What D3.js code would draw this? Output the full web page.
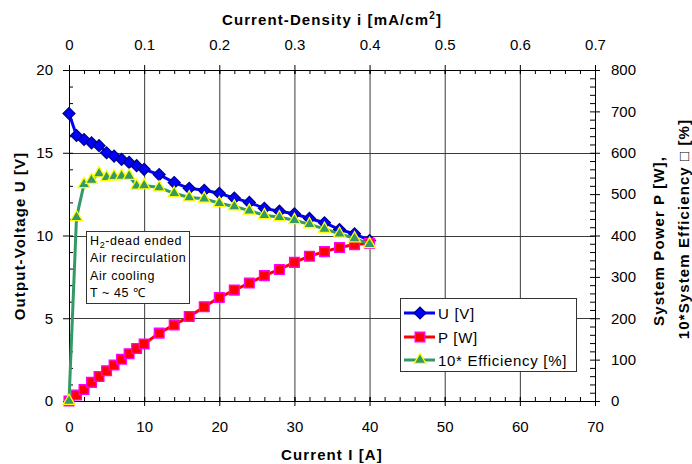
<!DOCTYPE html>
<html><head><meta charset="utf-8">
<script src="https://cdn.jsdelivr.net/npm/d3@7"></script>
<style>
body{margin:0;background:#fff;}
text{font-family:"Liberation Sans",Arial,sans-serif;fill:#000;}
</style>
</head><body><svg id="c" width="692" height="464"></svg>
<script>
// ---- data ----
const currentA = [0,1,2,3,4,5,6,7,8,9,10,12,14,16,18,20,22,24,26,28,30,32,34,36,38,40];
const voltageU = [17.37,16.04,15.8,15.6,15.43,15.0,14.8,14.6,14.42,14.22,14.0,13.68,13.2,12.85,12.73,12.55,12.26,12.0,11.64,11.47,11.31,11.03,10.77,10.36,10.1,9.7];
const powerP = [0,14.5,28,45,59,73,87,101,114,127,138,164,184,204,228,250,268,285,303,318,335,350,361,371,378,381];
const efficiency10 = [0,444,524,534,550,541,543,544,544,520,521,516,502,492,489,478,470,460,449,444,437,427,416,404,393,379];
const xTicks = [0,10,20,30,40,50,60,70];
const topTicks = [0,0.1,0.2,0.3,0.4,0.5,0.6,0.7];
const leftTicks = [0,5,10,15,20];
const rightTicks = [0,100,200,300,400,500,600,700,800];
const legendLabels = ["U [V]","P [W]","10* Efficiency [%]"];
const noteLines = ["Air recirculation","Air cooling","T ~ 45 \u2103"];

// ---- layout ----
const L=69, R=595, T=70, B=401;
const svg=d3.select("#c");
const x=d3.scaleLinear().domain([0,70]).range([L,R]);
const xTop=d3.scaleLinear().domain([0,0.7]).range([L,R]);
const y=d3.scaleLinear().domain([0,20]).range([B,T]);
const yR=d3.scaleLinear().domain([0,800]).range([B,T]);

// gridlines
const grid=svg.append("g").attr("stroke","#3a3a3a").attr("stroke-width",1);
xTicks.slice(1,-1).forEach(v=>grid.append("line").attr("x1",x(v)+0.5).attr("x2",x(v)+0.5).attr("y1",T).attr("y2",B));
leftTicks.slice(1,-1).forEach(v=>grid.append("line").attr("x1",L).attr("x2",R).attr("y1",Math.round(y(v))+0.5).attr("y2",Math.round(y(v))+0.5));

function styleAxis(g){
  g.selectAll("path,line").attr("stroke","#000").attr("stroke-width",1);
  g.selectAll("text").attr("font-size","15px").attr("font-family","'Liberation Sans',Arial,sans-serif").attr("fill","#000");
}
const fmt=d=>String(d);
// minor (inward) ticks
svg.append("g").attr("transform",`translate(0,${B})`).call(d3.axisBottom(x).tickValues(d3.range(0,71,2)).tickSize(-4).tickSizeOuter(0).tickFormat("")).call(styleAxis);
svg.append("g").attr("transform",`translate(0,${T})`).call(d3.axisTop(xTop).tickValues(d3.range(0,36).map(i=>i*0.02)).tickSize(-4).tickSizeOuter(0).tickFormat("")).call(styleAxis);
svg.append("g").attr("transform",`translate(${L},0)`).call(d3.axisLeft(y).tickValues(d3.range(0,21,1)).tickSize(-4).tickSizeOuter(0).tickFormat("")).call(styleAxis);
svg.append("g").attr("transform",`translate(${R},0)`).call(d3.axisRight(yR).tickValues(d3.range(0,801,20)).tickSize(-5).tickSizeOuter(0).tickFormat("")).call(styleAxis);
// major ticks + labels
svg.append("g").attr("transform",`translate(0,${B})`).call(d3.axisBottom(x).tickValues(xTicks).tickSize(5).tickPadding(15).tickSizeOuter(0).tickFormat(fmt)).call(styleAxis);
svg.append("g").attr("transform",`translate(0,${T})`).call(d3.axisTop(xTop).tickValues(topTicks).tickSize(5).tickPadding(15).tickSizeOuter(0).tickFormat(fmt)).call(styleAxis);
svg.append("g").attr("transform",`translate(${L},0)`).call(d3.axisLeft(y).tickValues(leftTicks).tickSize(6).tickPadding(10).tickSizeOuter(0).tickFormat(fmt)).call(styleAxis);
svg.append("g").attr("transform",`translate(${R},0)`).call(d3.axisRight(yR).tickValues(rightTicks).tickSize(5).tickPadding(11).tickSizeOuter(0).tickFormat(fmt)).call(styleAxis);
// inward part of major ticks
svg.append("g").attr("transform",`translate(0,${B})`).call(d3.axisBottom(x).tickValues(xTicks).tickSize(-4).tickSizeOuter(0).tickFormat("")).call(styleAxis);
svg.append("g").attr("transform",`translate(0,${T})`).call(d3.axisTop(xTop).tickValues(topTicks).tickSize(-4).tickSizeOuter(0).tickFormat("")).call(styleAxis);

// titles
const titleStyle=s=>s.attr("font-size","15px").attr("font-weight","bold").attr("letter-spacing","1.1px").attr("text-anchor","middle");
svg.append("text").attr("x",(L+R)/2).attr("y",460).call(titleStyle).text("Current I [A]");
const tt=svg.append("text").attr("x",(L+R)/2).attr("y",25).call(titleStyle);
tt.append("tspan").text("Current-Density i [mA/cm");
tt.append("tspan").attr("font-size","10px").attr("dy","-6").text("2");
tt.append("tspan").attr("dy","6").text("]");
svg.append("text").attr("transform","translate(25,236) rotate(-90)").call(titleStyle).text("Output-Voltage U [V]");
svg.append("text").attr("transform","translate(664,241) rotate(-90)").call(titleStyle).text("System Power P [W],");
svg.append("text").attr("transform","translate(689,229) rotate(-90)").call(titleStyle).text("10*System Efficiency  \u25A1 [%]");

// series
const idx=d3.range(currentA.length);
const lineU=d3.line().x(i=>x(currentA[i])).y(i=>y(voltageU[i]));
const lineP=d3.line().x(i=>x(currentA[i])).y(i=>yR(powerP[i]));
const lineE=d3.line().x(i=>x(currentA[i])).y(i=>yR(efficiency10[i]));
const diamond=d3.symbol().type(d3.symbolSquare).size(70);
const square=d3.symbol().type(d3.symbolSquare).size(95);
const tri=d3.symbol().type(d3.symbolTriangle).size(60);

const series=[
  {line:lineU,color:"#0000FF",sym:diamond,fill:"#0000FF",stroke:"#00008B",rot:45,yv:i=>y(voltageU[i])},
  {line:lineP,color:"#FF0000",sym:square,fill:"#FF0000",stroke:"#FF00FF",rot:0,yv:i=>yR(powerP[i])},
  {line:lineE,color:"#339966",sym:tri,fill:"#339966",stroke:"#FFFF00",rot:0,yv:i=>yR(efficiency10[i])}
];
series.forEach(s=>{
  svg.append("path").attr("d",s.line(idx)).attr("fill","none").attr("stroke",s.color).attr("stroke-width",3);
  svg.append("g").selectAll("path").data(idx).join("path")
    .attr("d",s.sym()).attr("transform",i=>`translate(${x(currentA[i])},${s.yv(i)}) rotate(${s.rot})`)
    .attr("fill",s.fill).attr("stroke",s.stroke).attr("stroke-width",1.3);
});

// annotation box
svg.append("rect").attr("x",86.5).attr("y",231.5).attr("width",103).attr("height",72).attr("fill","#fff").attr("stroke","#333");
const nt=svg.append("text").attr("x",90).attr("y",245).attr("font-size","12.5px").attr("letter-spacing","0.6px");
nt.append("tspan").text("H");
nt.append("tspan").attr("font-size","9px").attr("dy","3").text("2");
nt.append("tspan").attr("dy","-3").text("-dead ended");
noteLines.forEach((t,k)=>svg.append("text").attr("x",90).attr("y",262+k*17.5).attr("font-size","12.5px").attr("letter-spacing","0.6px").text(t));

// legend
const lg=svg.append("g");
lg.append("rect").attr("x",400.5).attr("y",298.5).attr("width",176).attr("height",73).attr("fill","#fff").attr("stroke","#333");
const ly=[313,337,360];
series.forEach((s,k)=>{
  lg.append("line").attr("x1",404).attr("x2",435).attr("y1",ly[k]).attr("y2",ly[k]).attr("stroke",s.color).attr("stroke-width",3);
  lg.append("path").attr("d",s.sym()).attr("transform",`translate(420,${ly[k]}) rotate(${s.rot})`).attr("fill",s.fill).attr("stroke",s.stroke).attr("stroke-width",1.3);
  lg.append("text").attr("x",438).attr("y",ly[k]+5.5).attr("font-size","15px").attr("letter-spacing","0.7px").text(legendLabels[k]);
});
</script>
</body></html>
